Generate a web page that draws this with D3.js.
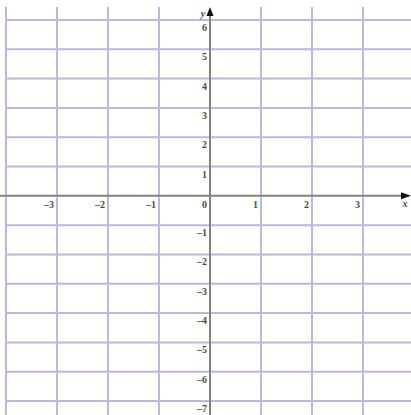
<!DOCTYPE html>
<html>
<head>
<meta charset="utf-8">
<script src="https://cdn.jsdelivr.net/npm/d3@7"></script>
<style>
  body { margin: 0; background: #fff; }
  text { font-family: "Liberation Serif", serif; font-weight: bold; font-size: 10px; fill: #4a4a4a; }
</style>
</head>
<body>
<div id="chart"></div>
<script>
var w = 411;
var h = 415;

// grid + labels
var gridX = [-4, -3, -2, -1, 1, 2, 3];
var gridY = [-7, -6, -5, -4, -3, -2, -1, 1, 2, 3, 4, 5, 6];
var xLabels = [-3, -2, -1, 0, 1, 2, 3];
var yLabels = [6, 5, 4, 3, 2, 1, -1, -2, -3, -4, -5, -6, -7];

var x = d3.scaleLinear().domain([-4, 4]).range([6, 414]);
var y = d3.scaleLinear().domain([-7, 6]).range([401, 20]);

var svg = d3.select("#chart")
    .append("svg")
    .attr("width", w)
    .attr("height", h);

var gridColor = "#b9b9e0";

svg.selectAll("line.gx")
    .data(gridX)
    .enter()
    .append("line")
    .attr("class", "gx")
    .attr("x1", function(d) { return x(d); })
    .attr("x2", function(d) { return x(d); })
    .attr("y1", 7)
    .attr("y2", h)
    .attr("stroke", gridColor)
    .attr("stroke-width", 2);

svg.selectAll("line.gy")
    .data(gridY)
    .enter()
    .append("line")
    .attr("class", "gy")
    .attr("x1", 5)
    .attr("x2", w)
    .attr("y1", function(d) { return y(d); })
    .attr("y2", function(d) { return y(d); })
    .attr("stroke", gridColor)
    .attr("stroke-width", 2);

// axes
svg.append("line")
    .attr("x1", 0).attr("x2", w - 8)
    .attr("y1", y(0)).attr("y2", y(0))
    .attr("stroke", "#86817c")
    .attr("stroke-width", 2);

svg.append("line")
    .attr("x1", x(0)).attr("x2", x(0))
    .attr("y1", 14).attr("y2", h)
    .attr("stroke", "#86817c")
    .attr("stroke-width", 2);

// arrows
svg.append("path")
    .attr("d", "M" + (w - 10) + "," + (y(0) - 3.5) + "L" + w + "," + y(0) + "L" + (w - 10) + "," + (y(0) + 3.5) + "Z")
    .attr("fill", "#111");

svg.append("path")
    .attr("d", "M" + (x(0) - 3.5) + ",16L" + x(0) + ",7L" + (x(0) + 3.5) + ",16Z")
    .attr("fill", "#111");

svg.selectAll("text.xl")
    .data(xLabels)
    .enter()
    .append("text")
    .attr("class", "xl")
    .attr("x", function(d) { return x(d) - 3; })
    .attr("y", y(0) + 12)
    .attr("text-anchor", "end")
    .text(function(d) { return d < 0 ? "\u2013" + (-d) : d; });

svg.selectAll("text.yl")
    .data(yLabels)
    .enter()
    .append("text")
    .attr("class", "yl")
    .attr("x", x(0) - 3)
    .attr("y", function(d) { return y(d) + 11; })
    .attr("text-anchor", "end")
    .text(function(d) { return d < 0 ? "\u2013" + (-d) : d; });

svg.append("text")
    .attr("x", w - 6).attr("y", y(0) + 11)
    .attr("font-style", "italic")
    .attr("text-anchor", "middle")
    .text("x");

svg.append("text")
    .attr("x", x(0) - 7).attr("y", 17)
    .attr("font-style", "italic")
    .attr("text-anchor", "middle")
    .text("y");
</script>
</body>
</html>
